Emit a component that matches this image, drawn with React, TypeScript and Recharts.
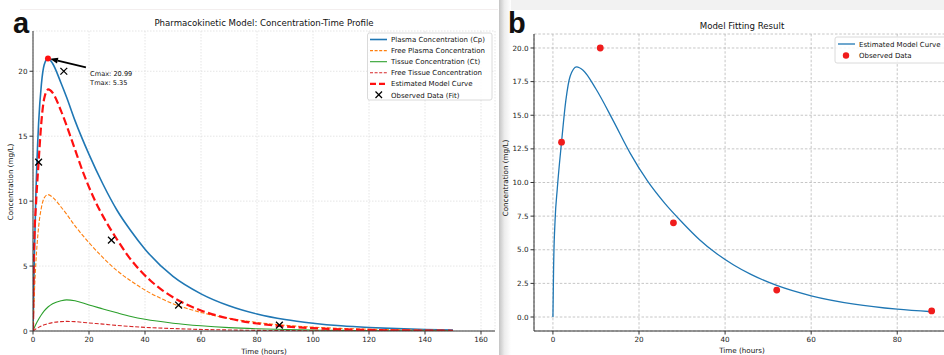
import React from 'react';
import {
  ComposedChart, Line, Scatter, XAxis, YAxis, CartesianGrid, ReferenceDot, ReferenceLine,
} from 'recharts';

// Left panel: model curves on a common time grid (hours)
const timeGrid = [0, 0.5, 1, 2, 3, 4, 5.35, 7, 10, 12, 15, 20, 25, 30, 35, 40, 50, 60, 70, 80, 90, 100, 110, 120, 130, 140, 150];
const plasmaConc = [0, 5.9, 10.3, 16.0, 19.0, 20.5, 20.99, 20.6, 19.1, 18.0, 16.2, 13.6, 11.3, 9.3, 7.7, 6.3, 4.2, 2.86, 1.94, 1.31, 0.88, 0.6, 0.4, 0.27, 0.18, 0.12, 0.08];
const freePlasmaConc = [0, 2.95, 5.15, 8.0, 9.5, 10.25, 10.5, 10.3, 9.55, 9.0, 8.1, 6.8, 5.65, 4.65, 3.85, 3.15, 2.1, 1.43, 0.97, 0.66, 0.44, 0.3, 0.2, 0.14, 0.09, 0.06, 0.04];
const tissueConc = [0, 0.27, 0.5, 0.9, 1.25, 1.55, 1.85, 2.1, 2.33, 2.4, 2.33, 2.0, 1.7, 1.4, 1.12, 0.9, 0.6, 0.4, 0.26, 0.17, 0.11, 0.07, 0.045, 0.03, 0.02, 0.013, 0.01];
const freeTissueConc = [0, 0.08, 0.16, 0.28, 0.39, 0.48, 0.57, 0.65, 0.72, 0.74, 0.72, 0.62, 0.53, 0.43, 0.35, 0.28, 0.19, 0.12, 0.08, 0.05, 0.034, 0.022, 0.014, 0.009, 0.006, 0.004, 0.003];

// Estimated model curve (both panels)
const estTimes = [0, 0.15, 0.5, 1, 2, 3, 4, 5.5, 7, 10, 14, 18, 22, 26, 30, 34, 38, 42, 46, 52, 60, 70, 80, 88, 100, 110, 120, 130, 140, 150];
const estConc = [0, 3.6, 7.2, 9.5, 13.0, 16.1, 17.9, 18.6, 18.35, 16.95, 14.6, 12.15, 10.1, 8.45, 7.05, 5.77, 4.72, 3.87, 3.17, 2.35, 1.58, 0.96, 0.58, 0.39, 0.22, 0.13, 0.08, 0.05, 0.03, 0.02];
const fitEndTime = 88;

// Observed data
const obsTimes = [2, 11, 28, 52, 88];
const obsConc = [13, 20, 7, 2, 0.45];

// Peak annotation
const tmax = 5.35;
const cmax = 20.99;
const arrowTail = { x: 18.9, y: 20.3 };
const noteAnchor = { x: 20.4, y: 19.65 };

// Ticks
const leftXTicks = [0, 20, 40, 60, 80, 100, 120, 140, 160];
const leftYTicks = [0, 5, 10, 15, 20];
const rightXTicks = [0, 20, 40, 60, 80];
const rightYTicks = [0, 2.5, 5, 7.5, 10, 12.5, 15, 17.5, 20];

const rows = (xs: number[], ys: number[]) => xs.map((t, i) => ({ t, v: ys[i] }));

const plasmaRows = rows(timeGrid, plasmaConc);
const freePlasmaRows = rows(timeGrid, freePlasmaConc);
const tissueRows = rows(timeGrid, tissueConc);
const freeTissueRows = rows(timeGrid, freeTissueConc);
const estRows = rows(estTimes, estConc);
const estRowsFit = estRows.filter((r) => r.t <= fitEndTime);
const obsRows = rows(obsTimes, obsConc);

const FONT = 'DejaVu Sans, sans-serif';
const tickStyle = { fontSize: 7.2, fill: '#222', fontFamily: FONT };
const FRAME = '#333';

const XMark = (p: any) => {
  const s = 3.4;
  return (
    <g stroke="#000" strokeWidth={1.3}>
      <line x1={p.cx - s} y1={p.cy - s} x2={p.cx + s} y2={p.cy + s} />
      <line x1={p.cx - s} y1={p.cy + s} x2={p.cx + s} y2={p.cy - s} />
    </g>
  );
};

const RedDot = (p: any) => <circle cx={p.cx} cy={p.cy} r={3.4} fill="#f01c1c" />;

// arrow from the note to the peak
const Arrow = (p: any) => {
  const { x1, y1, x2, y2 } = p;
  const dx = x2 - x1;
  const dy = y2 - y1;
  const len = Math.sqrt(dx * dx + dy * dy);
  const ux = dx / len;
  const uy = dy / len;
  const tipX = x2 - ux * 2;
  const tipY = y2 - uy * 2;
  const baseX = tipX - ux * 8;
  const baseY = tipY - uy * 8;
  const nx = -uy * 3;
  const ny = ux * 3;
  return (
    <g>
      <line x1={x1} y1={y1} x2={baseX} y2={baseY} stroke="#000" strokeWidth={1.8} />
      <polygon points={`${tipX},${tipY} ${baseX + nx},${baseY + ny} ${baseX - nx},${baseY - ny}`} fill="#000" />
    </g>
  );
};

const Note = (p: any) => (
  <text x={p.cx} y={p.cy} fontSize={6.6} fontFamily={FONT} fill="#111">
    <tspan x={p.cx}>Cmax: {cmax.toFixed(2)}</tspan>
    <tspan x={p.cx} dy={9.4}>Tmax: {tmax.toFixed(2)}</tspan>
  </text>
);

const leftLegend = [
  { label: 'Plasma Concentration (Cp)', color: '#1f77b4', dash: '', w: 1.6 },
  { label: 'Free Plasma Concentration', color: '#ff7f0e', dash: '3 1.6', w: 1.1 },
  { label: 'Tissue Concentration (Ct)', color: '#2ca02c', dash: '', w: 1.1 },
  { label: 'Free Tissue Concentration', color: '#d62728', dash: '3 1.6', w: 1.1 },
  { label: 'Estimated Model Curve', color: '#ff1010', dash: '6 3', w: 2.2 },
];

const Overlay = () => (
  <svg width={944} height={355} style={{ position: 'absolute', left: 0, top: 0, pointerEvents: 'none' }}>
    <g fontFamily={FONT} fill="#111">
      {/* panel letters */}
      <text x={13} y={33} fontSize={29} fontWeight="bold" fontFamily="Liberation Sans, Arial, sans-serif">a</text>
      <text x={508} y={33} fontSize={29} fontWeight="bold" fontFamily="Liberation Sans, Arial, sans-serif">b</text>

      {/* titles */}
      <text x={264} y={25.5} fontSize={8.6} textAnchor="middle">Pharmacokinetic Model: Concentration-Time Profile</text>
      <text x={742} y={28.5} fontSize={8.6} textAnchor="middle">Model Fitting Result</text>

      {/* axis labels */}
      <text x={264} y={354} fontSize={7.2} textAnchor="middle">Time (hours)</text>
      <text x={742} y={353} fontSize={7.2} textAnchor="middle">Time (hours)</text>
      <text transform="translate(12.5,182) rotate(-90)" fontSize={7.2} textAnchor="middle">Concentration (mg/L)</text>
      <text transform="translate(507.5,178) rotate(-90)" fontSize={7.2} textAnchor="middle">Concentration (mg/L)</text>

      {/* left legend */}
      <rect x={367.5} y={33} width={124.5} height={67} rx={2} fill="#fff" fillOpacity={0.85} stroke="#d0d0d0" strokeWidth={0.8} />
      {leftLegend.map((e, i) => (
        <g key={e.label}>
          <line x1={370} x2={387} y1={39.5 + i * 11.1} y2={39.5 + i * 11.1} stroke={e.color} strokeWidth={e.w} strokeDasharray={e.dash} />
          <text x={391} y={42 + i * 11.1} fontSize={7}>{e.label}</text>
        </g>
      ))}
      <g stroke="#000" strokeWidth={1.3}>
        <line x1={375.5} y1={91.5} x2={382} y2={98} />
        <line x1={375.5} y1={98} x2={382} y2={91.5} />
      </g>
      <text x={391} y={97.5} fontSize={7}>Observed Data (Fit)</text>

      {/* right legend */}
      <rect x={835} y={37} width={120} height={26} rx={2} fill="#fff" fillOpacity={0.85} stroke="#d0d0d0" strokeWidth={0.8} />
      <line x1={838} x2={855} y1={44} y2={44} stroke="#1f77b4" strokeWidth={1.3} />
      <text x={859} y={46.5} fontSize={7}>Estimated Model Curve</text>
      <circle cx={846} cy={55.5} r={3.2} fill="#f01c1c" />
      <text x={859} y={58} fontSize={7}>Observed Data</text>
    </g>
  </svg>
);

export default function App() {
  return (
    <div style={{ position: 'absolute', left: 0, top: 0, width: 944, height: 355, overflow: 'hidden', background: '#fff' }}>
      {/* page edge / divider shading of the right screenshot */}
      <div style={{ position: 'absolute', left: 20, top: 9, width: 478, height: 1, background: '#f3eeee' }} />
      <div style={{ position: 'absolute', left: 500, top: 0, width: 444, height: 10, background: '#f2f2f2' }} />
      <div style={{ position: 'absolute', left: 499, top: 0, width: 12, height: 355, background: 'linear-gradient(to right, #c4c4c4, #ececec 45%, #ffffff)' }} />

      {/* panel a */}
      <div style={{ position: 'absolute', left: 0, top: 0 }}>
        <ComposedChart width={500} height={355} margin={{ top: 31, right: 5, bottom: 0, left: 0 }}>
          <CartesianGrid stroke="#dedede" strokeDasharray="1.5 1.5" strokeWidth={0.8} />
          <XAxis type="number" dataKey="t" domain={[0, 165]} ticks={leftXTicks} interval={0} allowDataOverflow
            height={24} tick={tickStyle} tickSize={3.5} stroke={FRAME} />
          <XAxis xAxisId="top" orientation="top" type="number" dataKey="t" domain={[0, 165]} height={0}
            tick={false} tickLine={false} stroke={FRAME} />
          <YAxis type="number" dataKey="v" domain={[0, 23.1]} ticks={leftYTicks} interval={0} allowDataOverflow
            width={33} tick={tickStyle} tickSize={3.5} stroke={FRAME} />
          <YAxis yAxisId="right" orientation="right" type="number" domain={[0, 23.1]} width={0}
            tick={false} tickLine={false} stroke={FRAME} />
          <Line data={plasmaRows} dataKey="v" type="monotone" stroke="#1f77b4" strokeWidth={1.6} dot={false} isAnimationActive={false} />
          <Line data={freePlasmaRows} dataKey="v" type="monotone" stroke="#ff7f0e" strokeWidth={1.1} strokeDasharray="4 1.8" dot={false} isAnimationActive={false} />
          <Line data={tissueRows} dataKey="v" type="monotone" stroke="#2ca02c" strokeWidth={1.1} dot={false} isAnimationActive={false} />
          <Line data={freeTissueRows} dataKey="v" type="monotone" stroke="#d62728" strokeWidth={1.1} strokeDasharray="4 1.8" dot={false} isAnimationActive={false} />
          <Line data={estRows} dataKey="v" type="monotone" stroke="#ff1010" strokeWidth={2.2} strokeDasharray="8 3.5" dot={false} isAnimationActive={false} />
          <Scatter data={obsRows} dataKey="v" shape={XMark} isAnimationActive={false} />
          <ReferenceLine segment={[arrowTail, { x: tmax, y: cmax }]} shape={Arrow} />
          <ReferenceDot x={tmax} y={cmax} r={3} fill="#ff1010" stroke="none" />
          <ReferenceDot x={noteAnchor.x} y={noteAnchor.y} r={0} shape={Note} />
        </ComposedChart>
      </div>

      {/* panel b */}
      <div style={{ position: 'absolute', left: 500, top: 0 }}>
        <ComposedChart width={460} height={355} margin={{ top: 34, right: 9.4, bottom: 0, left: 0 }}>
          <CartesianGrid stroke="#b8b8b8" strokeDasharray="2.5 1.8" strokeWidth={0.8} />
          <XAxis type="number" dataKey="t" domain={[-4.4, 92.4]} ticks={rightXTicks} interval={0} allowDataOverflow
            height={24} tick={tickStyle} tickSize={3.5} stroke={FRAME} />
          <XAxis xAxisId="top" orientation="top" type="number" dataKey="t" domain={[-4.4, 92.4]} height={0}
            tick={false} tickLine={false} stroke={FRAME} />
          <YAxis type="number" dataKey="v" domain={[-1.04, 21.04]} ticks={rightYTicks} interval={0} allowDataOverflow
            width={34} tick={tickStyle} tickSize={3.5} stroke={FRAME} tickFormatter={(v: number) => v.toFixed(1)} />
          <YAxis yAxisId="right" orientation="right" type="number" domain={[-1.04, 21.04]} width={0}
            tick={false} tickLine={false} stroke={FRAME} />
          <Line data={estRowsFit} dataKey="v" type="monotone" stroke="#1f77b4" strokeWidth={1.3} dot={false} isAnimationActive={false} />
          <Scatter data={obsRows} dataKey="v" shape={RedDot} isAnimationActive={false} />
        </ComposedChart>
      </div>

      <Overlay />
    </div>
  );
}
